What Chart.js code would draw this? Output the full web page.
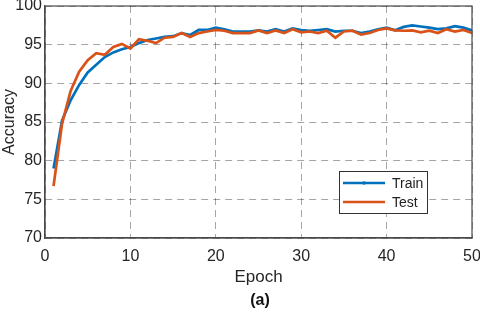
<!DOCTYPE html>
<html>
<head>
<meta charset="utf-8">
<script src="https://cdn.jsdelivr.net/npm/chart.js@4.4.0/dist/chart.umd.min.js"></script>
<style>
  html, body { margin: 0; padding: 0; background: #fff; }
  #wrap { width: 480px; height: 312px; }
</style>
</head>
<body>
<div id="wrap"><canvas id="myChart" width="480" height="312"></canvas></div>
<script>
/* values */
const epochs = [1, 2, 3, 4, 5, 6, 7, 8, 9, 10,
    11, 12, 13, 14, 15, 16, 17, 18, 19, 20,
    21, 22, 23, 24, 25, 26, 27, 28, 29, 30,
    31, 32, 33, 34, 35, 36, 37, 38, 39, 40,
    41, 42, 43, 44, 45, 46, 47, 48, 49, 50];

const trainAcc = [79.0, 85.2, 87.8, 89.8, 91.4, 92.4, 93.4, 94.0, 94.4, 94.7,
    95.2, 95.6, 95.8, 96.0, 96.1, 96.5, 96.25, 96.9, 96.9, 97.2,
    97.0, 96.7, 96.7, 96.7, 96.85, 96.7, 97.0, 96.7, 97.1, 96.9,
    96.8, 96.9, 97.0, 96.7, 96.8, 96.8, 96.5, 96.7, 97.0, 97.2,
    96.85, 97.3, 97.5, 97.35, 97.2, 97.0, 97.1, 97.4, 97.2, 96.85];

const testAcc = [76.7, 84.8, 89.0, 91.5, 93.0, 93.9, 93.7, 94.7, 95.1, 94.5,
    95.7, 95.5, 95.2, 95.9, 96.0, 96.5, 96.0, 96.5, 96.7, 96.9,
    96.8, 96.5, 96.5, 96.5, 96.85, 96.5, 96.85, 96.5, 97.0, 96.6,
    96.7, 96.5, 96.8, 95.9, 96.7, 96.8, 96.3, 96.5, 96.9, 97.1,
    96.85, 96.8, 96.85, 96.6, 96.8, 96.5, 97.0, 96.7, 96.9, 96.5];

const seriesNames = ['Train', 'Test'];
const xTicks = [0, 10, 20, 30, 40, 50];
const yTicks = [70, 75, 80, 85, 90, 95, 100];

const FONT = '"Liberation Sans", Arial, sans-serif';
const AXIS_COLOR = '#4a4a4a';

/* box around plot, legend and sub caption */
const extras = {
    id: 'extras',
    afterDraw(chart) {
        const ctx = chart.ctx;
        const a = chart.chartArea;
        ctx.save();
        ctx.strokeStyle = AXIS_COLOR;
        ctx.lineWidth = 1.2;
        ctx.strokeRect(a.left, a.top, a.right - a.left, a.bottom - a.top);

        /* legend */
        const lx = 339, ly = 171, lw = 88, lh = 42;
        ctx.fillStyle = '#fff';
        ctx.fillRect(lx, ly, lw, lh);
        ctx.strokeStyle = '#333';
        ctx.lineWidth = 1;
        ctx.strokeRect(lx + 0.5, ly + 0.5, lw, lh);
        chart.data.datasets.forEach((ds, i) => {
            const y = ly + 12 + i * 19;
            ctx.strokeStyle = ds.borderColor;
            ctx.lineWidth = 2.5;
            ctx.beginPath();
            ctx.moveTo(lx + 4, y);
            ctx.lineTo(lx + 46, y);
            ctx.stroke();
            if (i === 0) {
                ctx.fillStyle = ds.borderColor;
                ctx.beginPath();
                ctx.arc(lx + 25, y, 1.8, 0, Math.PI * 2);
                ctx.fill();
            }
            ctx.fillStyle = '#222';
            ctx.font = '14px ' + FONT;
            ctx.textBaseline = 'middle';
            ctx.textAlign = 'left';
            ctx.fillText(ds.label, lx + 53, y + 1);
        });

        /* (a) */
        ctx.fillStyle = '#111';
        ctx.font = 'bold 16px ' + FONT;
        ctx.textAlign = 'center';
        ctx.textBaseline = 'middle';
        ctx.fillText('(a)', 260, 301);
        ctx.restore();
    }
};

const ctx = document.getElementById('myChart').getContext('2d');
const lineChart = new Chart(ctx, {
    type: 'line',
    data: {
        datasets: [{
            label: seriesNames[0],
            data: epochs.map((e, i) => ({x: e, y: trainAcc[i]})),
            borderColor: '#0072BD',
            backgroundColor: '#0072BD',
            borderWidth: 2.7,
            pointRadius: 0,
            tension: 0,
            order: 1
        }, {
            label: seriesNames[1],
            data: epochs.map((e, i) => ({x: e, y: testAcc[i]})),
            borderColor: '#D95319',
            backgroundColor: '#D95319',
            borderWidth: 2.7,
            pointRadius: 0,
            tension: 0,
            order: 0
        }]
    },
    options: {
        responsive: false,
        animation: false,
        layout: { padding: { top: 6, right: 8, left: 0, bottom: 0 } },
        plugins: {
            legend: { display: false },
            tooltip: { enabled: false }
        },
        scales: {
            x: {
                type: 'linear',
                min: xTicks[0],
                max: xTicks[xTicks.length - 1],
                afterBuildTicks: (scale) => { scale.ticks = xTicks.map(v => ({value: v})); },
                afterFit: (scale) => {
                    scale.height = 74;
                    scale.paddingLeft = 0;
                    scale.paddingRight = 0;
                },
                grid: { color: 'rgba(0,0,0,0.35)', lineWidth: 1, drawTicks: false },
                border: { color: AXIS_COLOR, width: 1.2, dash: [7, 5] },
                ticks: { padding: 9, color: '#262626', font: { family: FONT, size: 16 } },
                title: {
                    display: true, text: 'Epoch', color: '#262626',
                    font: { family: FONT, size: 17 },
                    padding: { top: 0, bottom: 24 }
                }
            },
            y: {
                min: yTicks[0],
                max: yTicks[yTicks.length - 1],
                afterBuildTicks: (scale) => { scale.ticks = yTicks.map(v => ({value: v})); },
                afterFit: (scale) => {
                    scale.width = 45;
                    scale.paddingTop = 0;
                    scale.paddingBottom = 0;
                },
                grid: { color: 'rgba(0,0,0,0.35)', lineWidth: 1, drawTicks: false },
                border: { color: AXIS_COLOR, width: 1.2, dash: [7, 5] },
                ticks: { padding: 3, color: '#262626', font: { family: FONT, size: 16 } },
                title: {
                    display: true, text: 'Accuracy', color: '#262626',
                    font: { family: FONT, size: 16 },
                    padding: { top: 0, bottom: 0 }
                }
            }
        }
    },
    plugins: [extras]
});
</script>
</body>
</html>
